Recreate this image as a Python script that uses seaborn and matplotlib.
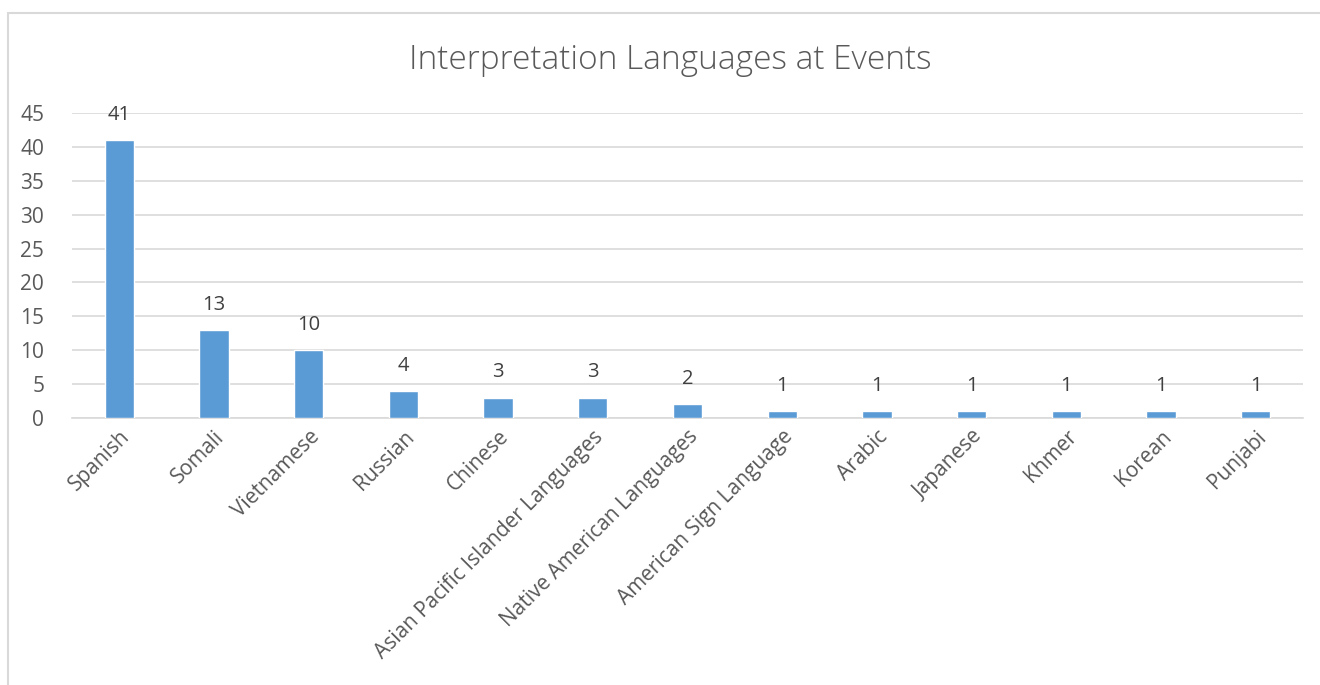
import matplotlib.pyplot as plt
import seaborn as sns
import pandas as pd
from matplotlib.patches import Rectangle

# Data
languages = ['Spanish', 'Somali', 'Vietnamese', 'Russian', 'Chinese',
             'Asian Pacific Islander Languages', 'Native American Languages',
             'American Sign Language', 'Arabic', 'Japanese', 'Khmer', 'Korean', 'Punjabi']
counts = [41, 13, 10, 4, 3, 3, 2, 1, 1, 1, 1, 1, 1]

df = pd.DataFrame({'language': languages, 'count': counts})

sns.set_style('white')
plt.rcParams['font.family'] = ['Open Sans', 'DejaVu Sans']

fig = plt.figure(figsize=(13.2, 6.85), dpi=100)
ax = fig.add_axes([72 / 1320, 1 - 418 / 685, (1303 - 72) / 1320, (418 - 113) / 685])

sns.barplot(df, x='language', y='count', color='#5B9BD5', width=0.31,
            saturation=1, ax=ax, zorder=3)

ax.set_ylim(0, 45)
ax.set_yticks(range(0, 46, 5))
ax.set_xlim(-0.5, len(languages) - 0.5)
ax.grid(axis='y', color='#D9D9D9', linewidth=1.2, zorder=0)
ax.set_axisbelow(True)
for s in ['top', 'right', 'left']:
    ax.spines[s].set_visible(False)
ax.spines['bottom'].set_color('#D9D9D9')
ax.spines['bottom'].set_linewidth(1.2)
ax.tick_params(axis='both', length=0, colors='#595959', labelsize=15)
ax.tick_params(axis='y', pad=20)
ax.tick_params(axis='x', pad=6)
ax.set_xlabel('')
ax.set_ylabel('')
plt.setp(ax.get_xticklabels(), rotation=45, ha='right', rotation_mode='anchor')

ax.bar_label(ax.containers[0], padding=11, color='#404040', fontsize=14.5)

fig.text(670 / 1320, 1 - 60 / 685, 'Interpretation Languages at Events', ha='center', va='center',
         fontsize=24, color='#595959', fontweight='light')

# outer chart frame
fig.patches.append(Rectangle((8 / 1320, -0.05), 1.1, 1 - 13 / 685 + 0.05, transform=fig.transFigure,
                             fill=False, edgecolor='#D9D9D9', linewidth=1.5))

fig.savefig('out.png', dpi=100)
